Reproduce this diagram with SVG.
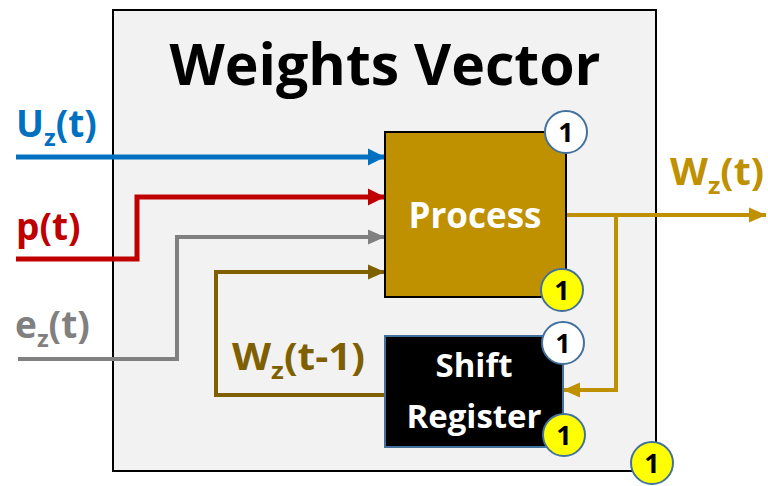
<svg xmlns="http://www.w3.org/2000/svg" width="768" height="486" viewBox="0 0 768 486">
<style>
text{font-family:"Open Sans","Noto Sans","Liberation Sans",sans-serif;font-weight:bold}
.ln{fill:none;stroke-linejoin:miter;stroke-linecap:butt}
.badge{stroke:#41719C;stroke-width:2}
.num{font-size:27px;fill:#000;text-anchor:middle}
.lbl{font-size:37px}
</style>
<defs>
<marker id="aB" markerUnits="userSpaceOnUse" markerWidth="18" markerHeight="18" refX="17" refY="9" orient="auto"><path d="M0,0.5 L17,9 L0,17.5 z" fill="#0070C0"/></marker>
<marker id="aR" markerUnits="userSpaceOnUse" markerWidth="18" markerHeight="18" refX="17" refY="9" orient="auto"><path d="M0,0.5 L17,9 L0,17.5 z" fill="#C00000"/></marker>
<marker id="aG" markerUnits="userSpaceOnUse" markerWidth="18" markerHeight="18" refX="17" refY="9" orient="auto"><path d="M0,1.5 L17,9 L0,16.5 z" fill="#808080"/></marker>
<marker id="aW" markerUnits="userSpaceOnUse" markerWidth="18" markerHeight="18" refX="17" refY="9" orient="auto"><path d="M0,1.5 L17,9 L0,16.5 z" fill="#7F6000"/></marker>
<marker id="aO" markerUnits="userSpaceOnUse" markerWidth="18" markerHeight="18" refX="17" refY="9" orient="auto"><path d="M0,1.5 L17,9 L0,16.5 z" fill="#BF9000"/></marker>
</defs>
<rect width="768" height="486" fill="#fff"/>
<g id="weights-vector">
<rect x="113" y="10" width="543" height="461" fill="#F2F2F2" stroke="#000" stroke-width="2"/>
<text x="385" y="85" font-size="58" text-anchor="middle" textLength="431" lengthAdjust="spacingAndGlyphs" fill="#000">Weights Vector</text>
</g>
<g id="connectors">
<polyline class="ln" points="16,157 385,157" stroke="#0070C0" stroke-width="5" marker-end="url(#aB)"/>
<polyline class="ln" points="16,259 137,259 137,197 385,197" stroke="#C00000" stroke-width="5" marker-end="url(#aR)"/>
<polyline class="ln" points="18,359 177,359 177,237 385,237" stroke="#808080" stroke-width="4" marker-end="url(#aG)"/>
<polyline class="ln" points="385,395 216,395 216,272 385,272" stroke="#7F6000" stroke-width="4" marker-end="url(#aW)"/>
<polyline class="ln" points="566,215 766,215" stroke="#BF9000" stroke-width="4" marker-end="url(#aO)"/>
<polyline class="ln" points="616,215 616,390 563,390" stroke="#BF9000" stroke-width="4" marker-end="url(#aO)"/>
<text x="16" y="137" class="lbl" fill="#0070C0">U<tspan font-size="24" dy="9">z</tspan><tspan dy="-9">(t)</tspan></text>
<text x="16" y="240" class="lbl" fill="#C00000">p(t)</text>
<text x="15" y="338" class="lbl" fill="#808080">e<tspan font-size="24" dy="9">z</tspan><tspan dy="-9">(t)</tspan></text>
<text x="232" y="370" class="lbl" fill="#7F6000" textLength="133" lengthAdjust="spacingAndGlyphs">W<tspan font-size="24" dy="9">z</tspan><tspan dy="-9">(t-1)</tspan></text>
<text x="670" y="185" class="lbl" fill="#BF9000" textLength="94" lengthAdjust="spacingAndGlyphs">W<tspan font-size="24" dy="9">z</tspan><tspan dy="-9">(t)</tspan></text>
</g>
<g id="process">
<rect x="385" y="132" width="181" height="165" fill="#BF9000" stroke="#000" stroke-width="2"/>
<text x="475" y="228" font-size="35" fill="#fff" text-anchor="middle">Process</text>
<circle class="badge" cx="566" cy="132" r="21" fill="#fff"/>
<text class="num" x="566" y="142">1</text>
<circle class="badge" cx="562" cy="290" r="21" fill="#FFFF00"/>
<text class="num" x="562" y="300">1</text>
</g>
<g id="shift-register">
<rect x="385" y="336" width="178" height="111" fill="#000" stroke="#41719C" stroke-width="2"/>
<text x="474" y="377" font-size="33" fill="#fff" text-anchor="middle">Shift</text>
<text x="474" y="428" font-size="33" fill="#fff" text-anchor="middle">Register</text>
<circle class="badge" cx="563" cy="343" r="21" fill="#fff"/>
<text class="num" x="563" y="353">1</text>
<circle class="badge" cx="564" cy="435" r="21" fill="#FFFF00"/>
<text class="num" x="564" y="445">1</text>
</g>
<g id="outer-badge">
<circle class="badge" cx="652" cy="463" r="21" fill="#FFFF00"/>
<text class="num" x="652" y="473">1</text>
</g>
</svg>
